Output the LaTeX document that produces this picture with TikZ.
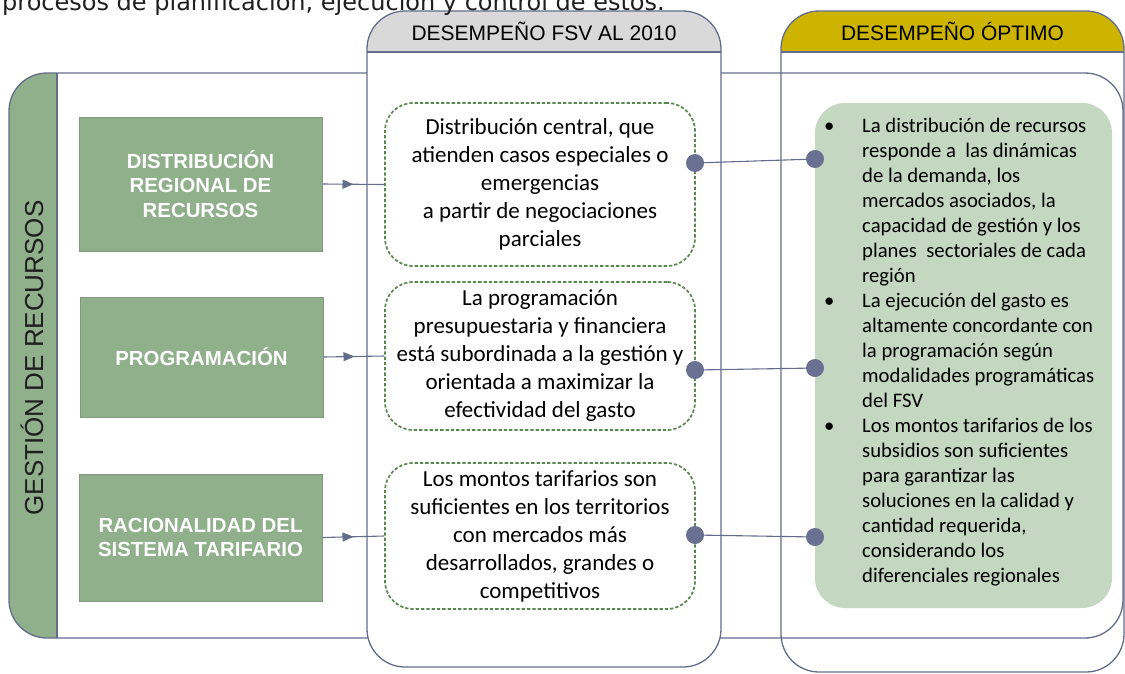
\documentclass[tikz,border=0pt]{standalone}
\usepackage{fontspec}
\setmainfont{Carlito}
\newfontfamily\arialf{Liberation Sans}
\newfontfamily\verdf{DejaVu Sans}
\usetikzlibrary{arrows.meta,decorations.markings}
\definecolor{lineC}{RGB}{100,108,140}
\definecolor{dotC}{RGB}{105,112,145}
\definecolor{gfill}{RGB}{143,176,139}
\definecolor{gborder}{RGB}{130,150,128}
\definecolor{hdrA}{RGB}{217,217,217}
\definecolor{hdrB}{RGB}{204,180,0}
\definecolor{rbfill}{RGB}{196,215,193}
\definecolor{dashC}{RGB}{90,135,80}
\definecolor{txtC}{RGB}{30,30,30}
\begin{document}
\begin{tikzpicture}[x=1pt,y=-1pt,
  border/.style={draw=lineC, line width=1.3pt},
  gbox/.style={fill=gfill, draw=gborder, line width=1pt, minimum width=243pt, inner sep=0pt,
    text=white, align=center, font=\arialf\bfseries\fontsize{20.4}{24.5}\selectfont},
  dbox/.style={draw=dashC, line width=1.7pt, dash pattern=on 3.3pt off 2pt, rounded corners=28pt,
    minimum width=310pt, inner sep=0pt, align=center, text=black, font=\fontsize{23}{28}\selectfont},
  dotn/.style={circle, fill=dotC, inner sep=0pt, minimum size=18pt},
  conn/.style={draw=lineC, line width=1.1pt},
  midarrow/.style={postaction={decorate}, decoration={markings,
    mark=at position #1 with {\arrow[lineC]{Triangle[length=11pt,width=9pt]}}}},
  hdrtext/.style={inner sep=0pt, text=black, font=\arialf\fontsize{21}{25}\selectfont}
]
\useasboundingbox (0,0) rectangle (1125,673);
\clip (0,0) rectangle (1125,673);

% main row box with green side panel
\begin{scope}
  \clip (0,0) rectangle (57,673);
  \fill[gfill, rounded corners=38pt] (9,73) rectangle (300,638);
\end{scope}
\draw[border, rounded corners=38pt] (9,73) rectangle (1123,638);
\draw[border] (57,73) -- (57,638);

% column 2 (optimo)
\begin{scope}
  \clip (770,0) rectangle (1125,52);
  \fill[hdrB, rounded corners=38pt] (781,11) rectangle (1124,672);
\end{scope}
\draw[border, rounded corners=38pt] (781,11) rectangle (1124,672);
\draw[border] (781,52) -- (1124,52);

% column 1 (FSV 2010)
\fill[white, rounded corners=38pt] (367,11) rectangle (721,667);
\begin{scope}
  \clip (360,0) rectangle (730,52);
  \fill[hdrA, rounded corners=38pt] (367,11) rectangle (721,667);
\end{scope}
\draw[border, rounded corners=38pt] (367,11) rectangle (721,667);
\draw[border] (367,52) -- (721,52);

% headers
\node[hdrtext] (h1) at (544,31) {DESEMPEÑO FSV AL 2010};
\node[hdrtext] (h2) at (952.5,31) {DESEMPEÑO ÓPTIMO};

% side label
\node[rotate=90, inner sep=0pt, text=txtC, font=\arialf\fontsize{26}{30}\selectfont] (side) at (32,358) {GESTIÓN DE RECURSOS};

% green boxes
\node[gbox, minimum height=134pt] (b1) at (200.5,184) {DISTRIBUCIÓN\\REGIONAL DE\\RECURSOS};
\node[gbox, minimum height=120pt] (b2) at (201.5,357) {PROGRAMACIÓN};
\node[gbox, minimum height=127pt] (b3) at (200.5,537.5) {RACIONALIDAD DEL\\SISTEMA TARIFARIO};

% dashed boxes
\node[dbox, minimum height=163pt] (d1) at (540,184.5) {Distribución central, que\\atienden casos especiales o\\emergencias\\a partir de negociaciones\\parciales};
\node[dbox, minimum height=148pt] (d2) at (540,356) {La programación\\presupuestaria y financiera\\está subordinada a la gestión y\\orientada a maximizar la\\efectividad del gasto};
\node[dbox, minimum height=146pt] (d3) at (540,536) {Los montos tarifarios son\\suficientes en los territorios\\con mercados más\\desarrollados, grandes o\\competitivos};

% right box
\node[fill=rbfill, rounded corners=30pt, minimum width=297pt, minimum height=505pt, inner sep=0pt] (rb) at (963.5,355.5) {};
\node[anchor=base west, inner sep=0pt, text=black, font=\fontsize{20.7}{25}\selectfont] (rbt) at (824,132) {%
\begin{tabular}[t]{@{}p{38pt}@{}l@{}}
\textbullet & La distribución de recursos\\
 & responde a\ \ las dinámicas\\
 & de la demanda, los\\
 & mercados asociados, la\\
 & capacidad de gestión y los\\
 & planes\ \ sectoriales de cada\\
 & región\\
\textbullet & La ejecución del gasto es\\
 & altamente concordante con\\
 & la programación según\\
 & modalidades programáticas\\
 & del FSV\\
\textbullet & Los montos tarifarios de los\\
 & subsidios son suficientes\\
 & para garantizar las\\
 & soluciones en la calidad y\\
 & cantidad requerida,\\
 & considerando los\\
 & diferenciales regionales
\end{tabular}};

% arrows from green boxes to dashed boxes
\draw[conn, midarrow=31pt] (b1.east) -- (d1.west);
\draw[conn, midarrow=31pt] (b2.east) -- (d2.west);
\draw[conn, midarrow=31pt] (b3.east) -- (d3.west);

% dots and links
\node[dotn] (l1) at (695,163) {};
\node[dotn] (r1) at (815,159) {};
\node[dotn] (l2) at (695,370) {};
\node[dotn] (r2) at (815,368) {};
\node[dotn] (l3) at (695,535) {};
\node[dotn] (r3) at (815,537) {};
\draw[conn] (l1) -- (r1);
\draw[conn] (l2) -- (r2);
\draw[conn] (l3) -- (r3);

% cut-off text line at the top
\node[anchor=base west, inner sep=0pt, text=txtC, font=\verdf\fontsize{24}{28}\selectfont] (top) at (2,10) {procesos de planificación, ejecución y control de estos.};
\end{tikzpicture}
\end{document}
